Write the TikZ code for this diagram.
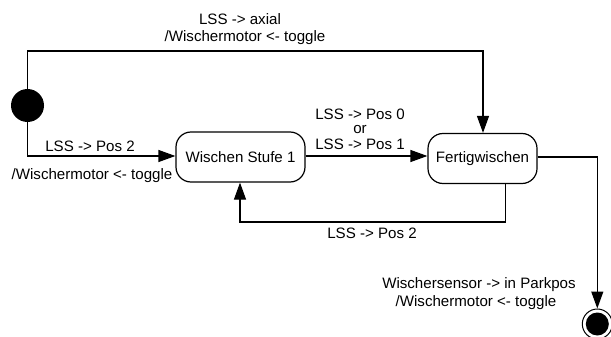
\documentclass[tikz,border=0pt]{standalone}
\usepackage{fontspec}
\setmainfont{Liberation Sans}
\usetikzlibrary{arrows.meta}
\begin{document}
\begin{tikzpicture}[x=1pt,y=-1pt,
  state/.style={draw,line width=1.2pt,rounded corners=15pt,inner sep=0pt,minimum height=50pt},
  conn/.style={line width=1.2pt},
  arr/.style={conn,-{Triangle[length=17pt,width=12pt]}},
  lbl/.style={inner sep=0pt,font=\fontsize{15.1}{17.5}\selectfont},
  every node/.style={font=\fontsize{15.1}{17.5}\selectfont}]
\useasboundingbox (0,0) rectangle (611,337);
\node[circle,fill=black,minimum size=33pt,inner sep=0pt] (start) at (27.5,105.5) {};
\node[state,minimum width=129pt] (ws) at (240.5,157) {Wischen Stufe 1};
\node[state,minimum width=109pt] (fw) at (482.5,158.5) {Fertigwischen};
\node[circle,draw,line width=1pt,minimum size=30pt,inner sep=0pt] (end) at (597.3,324) {};
\node[circle,fill=black,minimum size=23pt,inner sep=0pt] (endin) at (end) {};
\coordinate (c1) at (27.5,51);
\coordinate (c2) at (483,51);
\coordinate (c3) at (27.5,156);
\coordinate (c4) at (505.5,222);
\coordinate (c5) at (240,222);
\coordinate (c6) at (597.3,157);
\draw[arr] (start.north) -- (c1) -- (c2) -- (fw.north -| c2);
\draw[arr] (start.south) -- (c3) -- (ws.west |- c3);
\draw[arr] (ws.east |- c3) -- (fw.west |- c3);
\draw[arr] (fw.south -| c4) -- (c4) -- (c5) -- (ws.south -| c5);
\draw[arr] (fw.east |- c6) -- (c6) -- (end.north);
\node[lbl] (l1) at (240,19) {LSS -> axial};
\node[lbl] (l2) at (245,38) {/Wischermotor <- toggle};
\node[lbl] (l3) at (90,146) {LSS -> Pos 2};
\node[lbl] (l4) at (92,176) {/Wischermotor <- toggle};
\node[lbl] (l5) at (360,114.5) {LSS -> Pos 0};
\node[lbl] (l6) at (360,129.5) {or};
\node[lbl] (l7) at (360,144.5) {LSS -> Pos 1};
\node[lbl] (l8) at (372,233) {LSS -> Pos 2};
\node[lbl] (l9) at (479,285) {Wischersensor -> in Parkpos};
\node[lbl] (l10) at (476,303) {/Wischermotor <- toggle};
\end{tikzpicture}
\end{document}
